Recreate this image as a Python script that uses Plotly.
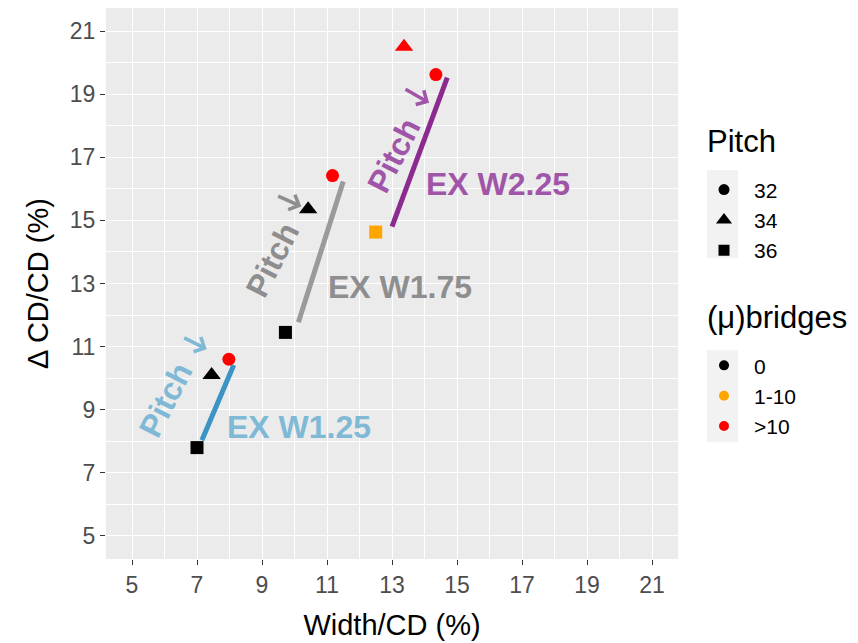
import plotly.graph_objects as go

# ---- data ----
groups = ["EX W1.25", "EX W1.75", "EX W2.25"]
pitch_levels = ["32", "34", "36"]
bridge_levels = ["0", "1-10", ">10"]

pt_width = [7.0, 7.45, 7.98, 9.72, 10.42, 11.17, 12.5, 13.37, 14.35]
pt_dcd = [7.8, 10.1, 10.6, 11.45, 15.35, 16.42, 14.63, 20.5, 19.62]
pt_pitch = ["36", "34", "32", "36", "34", "32", "36", "34", "32"]
pt_bridges = ["0", "0", ">10", "0", "0", ">10", "1-10", ">10", ">10"]

seg_x0 = [7.15, 10.12, 13.0]
seg_x1 = [8.13, 11.5, 14.7]
seg_y0 = [8.03, 11.77, 14.8]
seg_y1 = [10.42, 16.23, 19.52]

# label placement (data coordinates)
label_x = [10.14, 13.25, 16.27]
label_y = [8.45, 12.88, 16.14]
pitch_lab_x = [6.04, 9.33, 13.07]
pitch_lab_y = [9.3, 13.73, 17.06]
arrow_tail_x = [6.56, 9.45, 13.37]
arrow_tail_y = [11.30, 15.79, 19.18]
arrow_tip_x = [7.30, 10.21, 14.14]
arrow_tip_y = [10.92, 15.44, 18.73]

x_ticks = [5, 7, 9, 11, 13, 15, 17, 19, 21]
y_ticks = [5, 7, 9, 11, 13, 15, 17, 19, 21]

# ---- styles ----
line_colors = ["#3b94c4", "#9a9a9a", "#8b2b8f"]
text_colors = ["#80b9d6", "#8e8e8e", "#a055a8"]
symbol_map = {"32": "circle", "34": "triangle-up", "36": "square"}
size_map = {"32": 13, "34": 16, "36": 13}
legend_size_map = {"32": 11, "34": 14, "36": 11}
color_map = {"0": "black", "1-10": "orange", ">10": "red"}
FONT = "Liberation Sans, Arial, sans-serif"

fig = go.Figure()

for i in range(len(groups)):
    fig.add_trace(go.Scatter(
        x=[seg_x0[i], seg_x1[i]], y=[seg_y0[i], seg_y1[i]], mode="lines",
        line=dict(color=line_colors[i], width=5), showlegend=False, hoverinfo="skip"))

fig.add_trace(go.Scatter(
    x=pt_width, y=pt_dcd, mode="markers", showlegend=False,
    marker=dict(symbol=[symbol_map[p] for p in pt_pitch],
                size=[size_map[p] for p in pt_pitch], opacity=1,
                color=[color_map[b] for b in pt_bridges], line=dict(width=0))))

# legend entries
for p in pitch_levels:
    fig.add_trace(go.Scatter(x=[None], y=[None], mode="markers", name=p, legend="legend",
                             marker=dict(symbol=symbol_map[p], color="black", size=legend_size_map[p])))
for b in bridge_levels:
    fig.add_trace(go.Scatter(x=[None], y=[None], mode="markers", name=b, legend="legend2",
                             marker=dict(symbol="circle", color=color_map[b], size=10)))

for i, g in enumerate(groups):
    fig.add_annotation(x=label_x[i], y=label_y[i], text="<b>" + g + "</b>", showarrow=False,
                       font=dict(family=FONT, size=32, color=text_colors[i]),
                       xanchor="center", yanchor="middle")
    fig.add_annotation(x=pitch_lab_x[i], y=pitch_lab_y[i], text="<b>Pitch</b>", showarrow=False,
                       textangle=-63,
                       font=dict(family=FONT, size=32, color=text_colors[i]),
                       xanchor="center", yanchor="middle")
    fig.add_annotation(x=arrow_tip_x[i], y=arrow_tip_y[i], ax=arrow_tail_x[i], ay=arrow_tail_y[i],
                       axref="x", ayref="y", text="", showarrow=True,
                       arrowhead=4, arrowsize=0.9, arrowwidth=3.5, arrowcolor=text_colors[i],
                       standoff=0, startstandoff=0)

# legend titles
for txt, yp in [("Pitch", 0.757), ("(μ)bridges", 0.439)]:
    fig.add_annotation(xref="paper", yref="paper", x=1.047, y=yp, text=txt, showarrow=False,
                       xanchor="left", yanchor="middle",
                       font=dict(family=FONT, size=31, color="black"))

# legend key backgrounds
for (y0, y1) in [(0.546, 0.706), (0.212, 0.379)]:
    fig.add_shape(type="rect", xref="paper", yref="paper", x0=1.0507, x1=1.1049, y0=y0, y1=y1,
                  fillcolor="#f2f2f2", line=dict(width=0), layer="below")

axis_common = dict(
    showline=False, ticks="outside", ticklen=5, tickwidth=1, tickcolor="#333333",
    gridcolor="white", gridwidth=1.4, zeroline=False,
    tickfont=dict(family=FONT, size=23, color="#4d4d4d"),
    minor=dict(dtick=1, tick0=4, showgrid=True, gridcolor="white", gridwidth=0.6, ticks=""),
)

fig.update_xaxes(range=[4.2, 21.8], tickvals=x_ticks, ticktext=[str(v) for v in x_ticks],
                 title=dict(text="Width/CD (%)", font=dict(family=FONT, size=29, color="black"), standoff=18),
                 **axis_common)
fig.update_yaxes(range=[4.27, 21.73], tickvals=y_ticks, ticktext=[str(v) for v in y_ticks],
                 title=dict(text="Δ CD/CD (%)", font=dict(family=FONT, size=29, color="black"), standoff=12),
                 **axis_common)

fig.update_layout(
    width=858, height=643,
    margin=dict(l=98, r=188, t=0, b=92),
    plot_bgcolor="#ebebeb", paper_bgcolor="white",
    font=dict(family=FONT),
    legend=dict(font=dict(family=FONT, size=21, color="black"),
                x=1.028, xanchor="left", y=0.707, yanchor="top",
                bgcolor="rgba(0,0,0,0)", itemwidth=50, tracegroupgap=0),
    legend2=dict(font=dict(family=FONT, size=21, color="black"),
                 x=1.028, xanchor="left", y=0.388, yanchor="top",
                 bgcolor="rgba(0,0,0,0)", itemwidth=50, tracegroupgap=0),
)

fig.write_html("out.html")
